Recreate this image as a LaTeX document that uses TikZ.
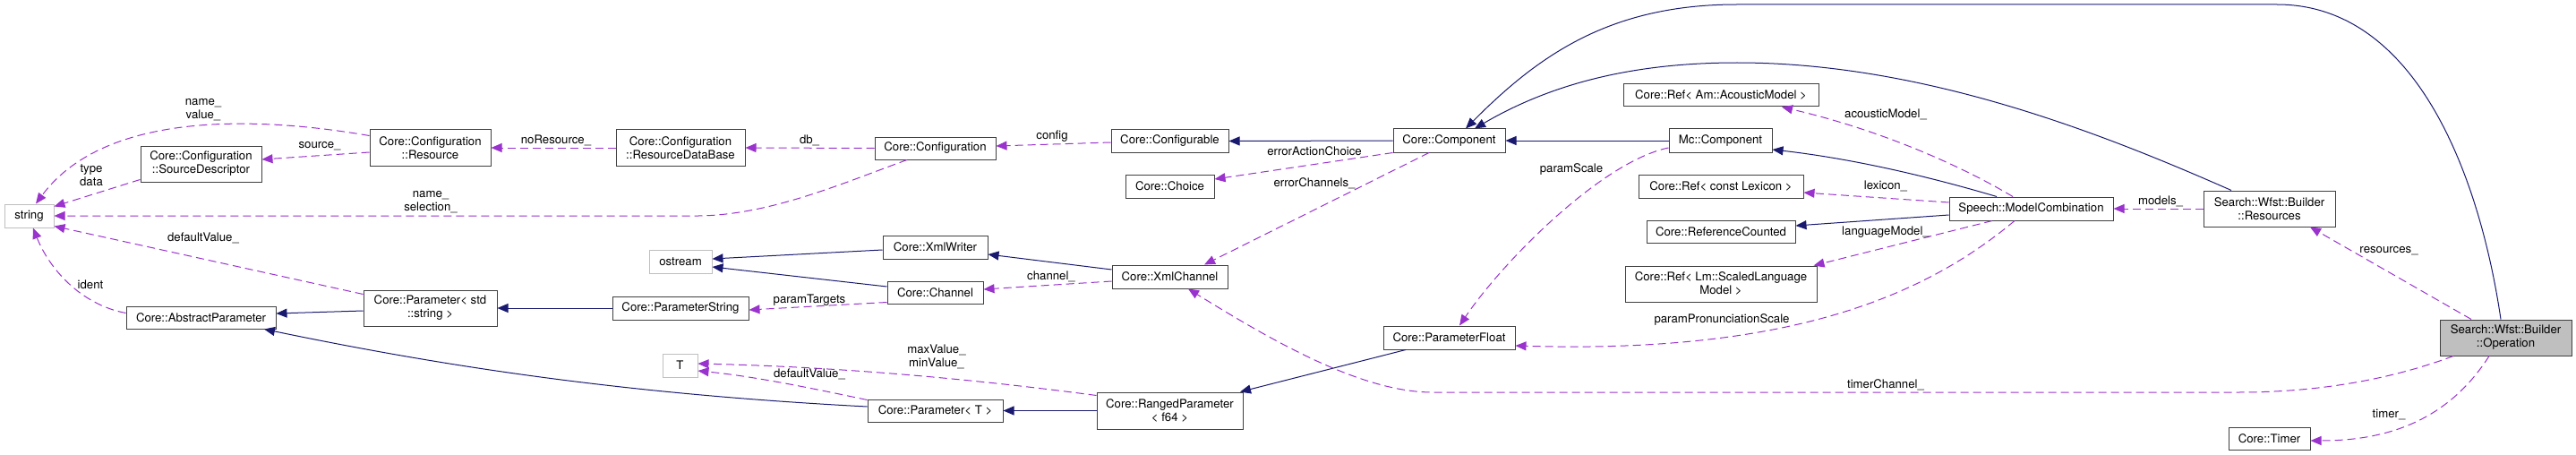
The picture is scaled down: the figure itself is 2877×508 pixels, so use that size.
\documentclass[tikz,border=0pt]{standalone}
\usepackage{fontspec}
\setmainfont{TeX Gyre Heros}
\usetikzlibrary{arrows.meta,calc}
\definecolor{dxnavy}{HTML}{191970}
\definecolor{dxpurple}{HTML}{9A32CD}
\definecolor{dxborder}{HTML}{404040}
\definecolor{dxgray}{HTML}{BFBFBF}
\newcommand\dxfont{\fontsize{13.2}{15}\selectfont}
\tikzset{
 box/.style={draw=dxborder, line width=1pt, inner sep=0pt, align=center, font=\dxfont},
 extbox/.style={box, draw=dxgray},
 curbox/.style={box, fill=dxgray},
 inh/.style={draw=dxnavy, line width=1pt, -{Triangle[length=12pt,width=10pt]}},
 usage/.style={draw=dxpurple, line width=1pt, dash pattern=on 9pt off 5pt, -{Triangle[length=12pt,width=10pt]}},
 lbl/.style={font=\dxfont, inner sep=0pt, align=center}
}
\newcommand\dxbox[7][box]{\node[#1, minimum width={#5-#3}, minimum height={#6-#4}] (#2) at ({(#3+#5)/2},{(#4+#6)/2}) {#7};}
\begin{document}
\begin{tikzpicture}[x=1pt,y=-1pt]
\useasboundingbox (0,0) rectangle (2877,508);
% nodes
\dxbox[extbox]{string}{5}{228}{60}{254}{string}
\dxbox{srcdesc}{157}{163}{292}{203}{Core::Configuration\\::SourceDescriptor}
\dxbox{resource}{413}{145}{548}{185}{Core::Configuration\\::Resource}
\dxbox{abspar}{141}{342}{308}{367}{Core::AbstractParameter}
\dxbox{parstr}{406}{324}{555}{364}{Core::Parameter< std\\::string >}
\dxbox{rdb}{688}{145}{832}{185}{Core::Configuration\\::ResourceDataBase}
\dxbox[extbox]{ostream}{725}{279}{795}{305}{ostream}
\dxbox{parstring}{684}{331}{836}{357}{Core::ParameterString}
\dxbox[extbox]{T}{740}{395}{779}{421}{T}
\dxbox{config}{977}{153}{1112}{178}{Core::Configuration}
\dxbox{configurable}{1241}{145}{1372}{170}{Core::Configurable}
\dxbox{choice}{1257}{195}{1356}{221}{Core::Choice}
\dxbox{xmlwriter}{986}{263}{1103}{289}{Core::XmlWriter}
\dxbox{channel}{991}{314}{1098}{339}{Core::Channel}
\dxbox{xmlchannel}{1242}{296}{1371}{322}{Core::XmlChannel}
\dxbox{parT}{969}{446}{1120}{471}{Core::Parameter< T >}
\dxbox{ranged}{1225}{438}{1388}{479}{Core::RangedParameter\\< f64 >}
\dxbox{component}{1556}{144}{1681}{170}{Core::Component}
\dxbox{refam}{1813}{94}{2031}{119}{Core::Ref< Am::AcousticModel >}
\dxbox{mccomp}{1864}{144}{1979}{170}{Mc::Component}
\dxbox{reflex}{1830}{195}{2014}{221}{Core::Ref< const Lexicon >}
\dxbox{refcount}{1839}{246}{2005}{271}{Core::ReferenceCounted}
\dxbox{reflm}{1815}{297}{2029}{337}{Core::Ref< Lm::ScaledLanguage\\Model >}
\dxbox{parfloat}{1545}{364}{1692}{390}{Core::ParameterFloat}
\dxbox{modelcomb}{2177}{220}{2360}{246}{Speech::ModelCombination}
\dxbox{resources}{2461}{213}{2608}{253}{Search::Wfst::Builder\\::Resources}
\dxbox[curbox]{operation}{2725}{357}{2872}{397}{Search::Wfst::Builder\\::Operation}
\dxbox{timer}{2489}{477}{2580}{502}{Core::Timer}
% inheritance
\draw[inh] (component.west) -- (configurable.east);
\draw[inh] (mccomp.west) -- (component.east);
\draw[inh] ($(modelcomb.north)+(-38.5,0)$) .. controls (2130,190) and (2050,175) .. ($(mccomp.east)+(0,10)$);
\draw[inh] ($(modelcomb.west)+(0,7)$) -- ($(refcount.east)+(0,-6.5)$);
\draw[inh] ($(resources.north)+(-42.5,0)$) .. controls (2350,150) and (2150,70) .. (1940,70) .. controls (1820,70) and (1730,95) .. ($(component.north)+(28.5,0)$);
\draw[inh] ($(operation.north)+(-5.5,0)$) .. controls (2770,200) and (2700,5) .. (2543,5) -- (1940,5) .. controls (1800,5) and (1720,60) .. ($(component.north)+(18.5,0)$);
\draw[inh] ($(xmlchannel.west)+(0,-8)$) -- ($(xmlwriter.east)+(0,8)$);
\draw[inh] ($(xmlwriter.west)+(0,3)$) -- ($(ostream.east)+(0,-3)$);
\draw[inh] ($(channel.west)+(0,-6.5)$) -- ($(ostream.east)+(0,6)$);
\draw[inh] (parstring.west) -- (parstr.east);
\draw[inh] ($(parstr.west)+(0,3)$) -- ($(abspar.east)+(0,-4.5)$);
\draw[inh] ($(parT.west)+(0,-4.5)$) .. controls (700,440) and (500,410) .. ($(abspar.south)+(70.5,0)$);
\draw[inh] (ranged.west) -- (parT.east);
\draw[inh] ($(parfloat.south)+(-48.5,0)$) -- ($(ranged.north)+(78.5,0)$);
% usage
\draw[usage] ($(resource.north west)+(0,7)$) .. controls (300,132) and (120,120) .. ($(string.north)+(7.5,0)$);
\draw[usage] ($(resource.west)+(0,5)$) -- ($(srcdesc.east)+(0,-5)$);
\draw[usage] ($(srcdesc.south west)+(0,-3)$) -- ($(string.north east)+(0,3)$);
\draw[usage] ($(config.south)+(-31.5,0)$) .. controls (940,205) and (860,240) .. (780,241) -- (string.east);
\draw[usage] ($(parstr.north west)+(0,5)$) -- ($(string.south east)+(0,-2)$);
\draw[usage] ($(abspar.west)+(0,-5)$) .. controls (90,340) and (55,300) .. ($(string.south)+(4.5,0)$);
\draw[usage] (rdb.west) -- (resource.east);
\draw[usage] (config.west) -- (rdb.east);
\draw[usage] ($(configurable.west)+(0,1.5)$) -- ($(config.east)+(0,-2.5)$);
\draw[usage] (component.south west) -- ($(choice.east)+(0,-8)$);
\draw[usage] ($(component.south)+(-22.5,0)$) -- ($(xmlchannel.north)+(38.5,0)$);
\draw[usage] ($(xmlchannel.west)+(0,5)$) -- ($(channel.east)+(0,-3.5)$);
\draw[usage] ($(channel.south west)+(0,-2)$) -- ($(parstring.east)+(0,2)$);
\draw[usage] ($(ranged.north west)+(0,4)$) .. controls (1100,425) and (950,410) .. ($(T.east)+(0,-2)$);
\draw[usage] ($(parT.north west)+(0,1)$) .. controls (900,432) and (840,420) .. ($(T.east)+(0,6)$);
\draw[usage] ($(mccomp.west)+(0,8)$) .. controls (1790,180) and (1680,290) .. ($(parfloat.north)+(11.5,0)$);
\draw[usage] ($(modelcomb.north)+(-20.5,0)$) .. controls (2190,185) and (2100,145) .. ($(refam.south)+(68,0)$);
\draw[usage] ($(modelcomb.west)+(0,-7)$) -- ($(reflex.east)+(0,7)$);
\draw[usage] ($(modelcomb.south)+(-43.5,0)$) -- ($(reflm.north east)+(-4,0)$);
\draw[usage] ($(modelcomb.south)+(-18.5,0)$) .. controls (2150,330) and (2000,395) .. ($(parfloat.east)+(0,9)$);
\draw[usage] (resources.west) -- (modelcomb.east);
\draw[usage] ($(operation.north)+(-38.5,0)$) -- ($(resources.south)+(45.5,0)$);
\draw[usage] ($(operation.south)+(-58.5,0)$) .. controls (2680,420) and (2600,438) .. (2500,438) -- (1600,438) .. controls (1520,438) and (1420,380) .. ($(xmlchannel.south)+(20.5,0)$);
\draw[usage] ($(operation.south)+(-18.5,0)$) .. controls (2740,460) and (2680,492) .. ($(timer.east)+(0,2.5)$);
% labels
\node[lbl] (la) at (227,123) {name\_\\value\_};
\node[lbl] (lb) at (357,163) {source\_};
\node[lbl] (lc) at (102,196) {type\\data};
\node[lbl] (ld) at (481,226) {name\_\\selection\_};
\node[lbl] (le) at (227,266) {defaultValue\_};
\node[lbl] (lf) at (101,318) {ident};
\node[lbl] (lg) at (621,157) {noResource\_};
\node[lbl] (lh) at (904,157) {db\_};
\node[lbl] (li) at (1175,152) {config};
\node[lbl] (lj) at (1468,169) {errorActionChoice};
\node[lbl] (lk) at (1468,205) {errorChannels\_};
\node[lbl] (ll) at (1174,309) {channel\_};
\node[lbl] (lm) at (904,335) {paramTargets};
\node[lbl] (ln) at (1046,398) {maxValue\_\\minValue\_};
\node[lbl] (lo) at (904,418) {defaultValue\_};
\node[lbl] (lp) at (1755,189) {paramScale};
\node[lbl] (lq) at (2106,128) {acousticModel\_};
\node[lbl] (lr) at (2106,208) {lexicon\_};
\node[lbl] (ls) at (2106,259) {languageModel\_};
\node[lbl] (lt) at (1923,357) {paramPronunciationScale};
\node[lbl] (lu) at (2413,225) {models\_};
\node[lbl] (lv) at (2668,280) {resources\_};
\node[lbl] (lw) at (2106,430) {timerChannel\_};
\node[lbl] (lx) at (2668,463) {timer\_};
\end{tikzpicture}
\end{document}
